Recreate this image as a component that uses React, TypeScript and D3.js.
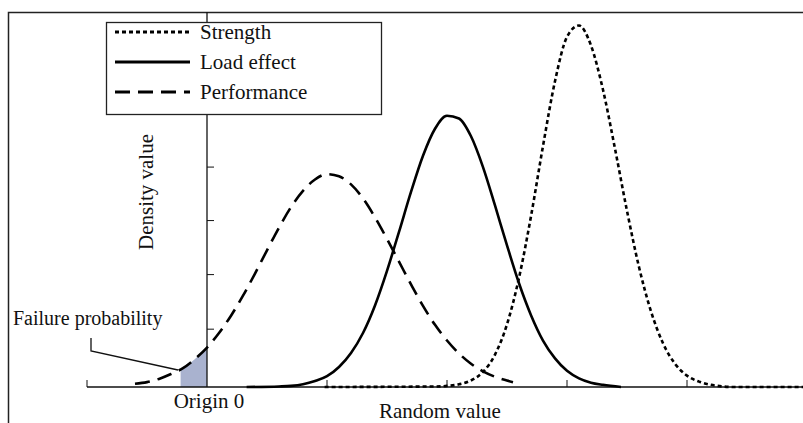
import React, { useEffect, useRef } from 'react';
import * as d3 from 'd3';

// density curves (x: random value, y: density)
const performancePoints: [number, number][] = [
  [-0.6, 0.06], [-0.5, 0.09], [-0.4, 0.15], [-0.3, 0.24], [-0.2, 0.35], [-0.1, 0.52],
  [0, 0.73], [0.1, 1.0], [0.2, 1.32], [0.3, 1.69], [0.4, 2.1], [0.5, 2.53],
  [0.6, 2.95], [0.7, 3.33], [0.8, 3.63], [0.9, 3.84], [1.0, 3.94], [1.1, 3.9],
  [1.2, 3.75], [1.3, 3.49], [1.4, 3.14], [1.5, 2.74], [1.6, 2.32], [1.7, 1.9],
  [1.8, 1.5], [1.9, 1.15], [2.0, 0.86], [2.1, 0.62], [2.2, 0.43], [2.3, 0.29],
  [2.4, 0.19], [2.5, 0.12], [2.55, 0.09],
];

const loadPoints: [number, number][] = [
  [0.33, 0], [0.6, 0.01], [0.7, 0.02], [0.8, 0.05], [0.9, 0.11], [1.0, 0.2],
  [1.1, 0.37], [1.2, 0.63], [1.3, 1.0], [1.4, 1.51], [1.5, 2.15], [1.6, 2.87],
  [1.7, 3.61], [1.8, 4.28], [1.9, 4.78], [2.0, 5.02], [2.1, 4.97], [2.2, 4.64],
  [2.3, 4.07], [2.4, 3.36], [2.5, 2.62], [2.6, 1.92], [2.7, 1.33], [2.8, 0.86],
  [2.9, 0.53], [3.0, 0.3], [3.1, 0.16], [3.2, 0.08], [3.3, 0.04], [3.45, 0],
];

const strengthPoints: [number, number][] = [
  [0.98, 0], [1.9, 0.01], [2.0, 0.02], [2.1, 0.05], [2.2, 0.12], [2.3, 0.28],
  [2.4, 0.6], [2.5, 1.16], [2.6, 2.02], [2.7, 3.16], [2.8, 4.46], [2.9, 5.66],
  [3.0, 6.48], [3.1, 6.69], [3.2, 6.32], [3.3, 5.5], [3.4, 4.41], [3.5, 3.26],
  [3.6, 2.22], [3.7, 1.4], [3.8, 0.81], [3.9, 0.43], [4.0, 0.21], [4.1, 0.1],
  [4.2, 0.04], [4.3, 0.01], [4.4, 0], [4.97, 0],
];

const xTicks = [-1, 1, 2, 3, 4];
const yTicks = [1.07, 2.08, 3.08, 4.07];
const failureRange = [-0.22, 0];

const legendItems = [
  { label: 'Strength', dash: '4,3', points: strengthPoints },
  { label: 'Load effect', dash: null, points: loadPoints },
  { label: 'Performance', dash: '15,8', points: performancePoints },
];

const FONT = '"Liberation Serif", "Times New Roman", serif';

const App = () => {
  const ref = useRef<SVGSVGElement>(null);

  useEffect(() => {
    const svg = d3.select(ref.current);
    svg.selectAll('*').remove();

    const width = 803;
    const height = 423;
    const x = d3.scaleLinear().domain([-1, 5]).range([87, 807]);
    const y = d3.scaleLinear().domain([0, 6.94]).range([387, 12]);

    svg.attr('width', width).attr('height', height);

    svg.append('rect')
      .attr('width', width).attr('height', height)
      .attr('fill', '#fff');

    // outer frame (runs off the right and bottom)
    svg.append('rect')
      .attr('x', 8.5).attr('y', 12.5)
      .attr('width', 810).attr('height', 430)
      .attr('fill', 'none')
      .attr('stroke', '#222')
      .attr('stroke-width', 1.5);

    // failure probability shading
    svg.append('clipPath').attr('id', 'fail-clip')
      .append('rect')
      .attr('x', x(failureRange[0])).attr('y', 0)
      .attr('width', x(failureRange[1]) - x(failureRange[0]))
      .attr('height', height);

    const area = d3.area<[number, number]>()
      .x(d => x(d[0]))
      .y0(y(0))
      .y1(d => y(d[1]))
      .curve(d3.curveMonotoneX);

    svg.append('path')
      .datum(performancePoints)
      .attr('d', area)
      .attr('clip-path', 'url(#fail-clip)')
      .attr('fill', '#a9b2cf');

    // axes
    svg.append('line')
      .attr('x1', x(-1)).attr('x2', width)
      .attr('y1', y(0)).attr('y2', y(0))
      .attr('stroke', '#111').attr('stroke-width', 1.3);

    svg.append('line')
      .attr('x1', x(0)).attr('x2', x(0))
      .attr('y1', 12).attr('y2', y(0))
      .attr('stroke', '#111').attr('stroke-width', 1.3);

    svg.selectAll('.xtick')
      .data(xTicks)
      .enter()
      .append('line')
      .attr('x1', d => x(d)).attr('x2', d => x(d))
      .attr('y1', y(0)).attr('y2', y(0) - 7)
      .attr('stroke', '#111').attr('stroke-width', 1);

    svg.selectAll('.ytick')
      .data(yTicks)
      .enter()
      .append('line')
      .attr('x1', x(0)).attr('x2', x(0) + 7)
      .attr('y1', d => y(d)).attr('y2', d => y(d))
      .attr('stroke', '#111').attr('stroke-width', 1);

    // curves
    const line = d3.line<[number, number]>()
      .x(d => x(d[0]))
      .y(d => y(d[1]))
      .curve(d3.curveMonotoneX);

    legendItems.forEach(item => {
      svg.append('path')
        .datum(item.points)
        .attr('d', line)
        .attr('fill', 'none')
        .attr('stroke', '#000')
        .attr('stroke-width', 2.6)
        .attr('stroke-dasharray', item.dash);
    });

    // legend
    const legend = svg.append('g');
    legend.append('rect')
      .attr('x', 106.5).attr('y', 22.5)
      .attr('width', 275).attr('height', 92)
      .attr('fill', '#fff')
      .attr('stroke', '#222')
      .attr('stroke-width', 1.3);

    legendItems.forEach((item, i) => {
      const cy = 32 + i * 30;
      legend.append('line')
        .attr('x1', 115).attr('x2', 190)
        .attr('y1', cy).attr('y2', cy)
        .attr('stroke', '#000')
        .attr('stroke-width', 3)
        .attr('stroke-dasharray', item.dash);
      legend.append('text')
        .attr('x', 200).attr('y', cy + 7)
        .style('font-family', FONT)
        .style('font-size', '21px')
        .style('fill', '#111')
        .text(item.label);
    });

    // labels
    svg.append('text')
      .attr('transform', `translate(153,192) rotate(-90)`)
      .attr('text-anchor', 'middle')
      .style('font-family', FONT)
      .style('font-size', '21px')
      .style('fill', '#111')
      .text('Density value');

    svg.append('text')
      .attr('x', x(0) + 2).attr('y', 408)
      .attr('text-anchor', 'middle')
      .style('font-family', FONT)
      .style('font-size', '21px')
      .style('fill', '#111')
      .text('Origin 0');

    svg.append('text')
      .attr('x', 440).attr('y', 418)
      .attr('text-anchor', 'middle')
      .style('font-family', FONT)
      .style('font-size', '21px')
      .style('fill', '#111')
      .text('Random value');

    svg.append('text')
      .attr('x', 13).attr('y', 325)
      .style('font-family', FONT)
      .style('font-size', '20px')
      .style('fill', '#111')
      .text('Failure probability');

    // leader line to the shaded area
    svg.append('polyline')
      .attr('points', '91,338 91,351 178,370')
      .attr('fill', 'none')
      .attr('stroke', '#111')
      .attr('stroke-width', 1.3);
  }, []);

  return (
    <svg
      ref={ref}
      style={{ position: 'fixed', left: 0, top: 0, display: 'block' }}
    />
  );
};

export default App;
